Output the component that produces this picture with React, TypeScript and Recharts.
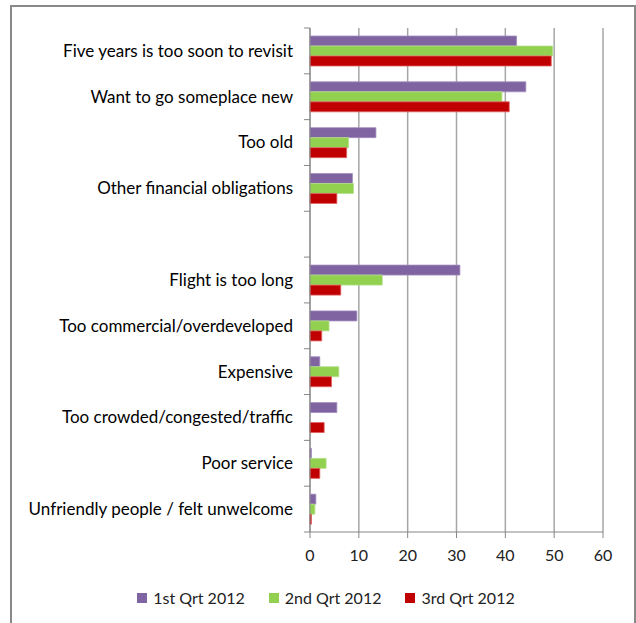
import React from "react";
import { BarChart, Bar, XAxis, YAxis, CartesianGrid } from "recharts";

const categories = [
  "Five years is too soon to revisit",
  "Want to go someplace new",
  "Too old",
  "Other financial obligations",
  "",
  "Flight is too long",
  "Too commercial/overdeveloped",
  "Expensive",
  "Too crowded/congested/traffic",
  "Poor service",
  "Unfriendly people / felt unwelcome",
];
const q1 = [42.3, 44.2, 13.5, 8.7, null, 30.7, 9.6, 2.0, 5.5, 0.3, 1.2];
const q2 = [49.7, 39.3, 7.9, 8.9, null, 14.8, 3.9, 5.9, 0, 3.3, 1.0];
const q3 = [49.4, 40.8, 7.5, 5.5, null, 6.3, 2.4, 4.4, 2.9, 2.0, 0.3];
const xTicks = [0, 10, 20, 30, 40, 50, 60];

const series = [
  { key: "q1", name: "1st Qrt 2012", color: "#8064A2", stroke: "#A58FC0" },
  { key: "q2", name: "2nd Qrt 2012", color: "#92D050", stroke: "#B5E08A" },
  { key: "q3", name: "3rd Qrt 2012", color: "#C00000", stroke: "#E06060" },
];

const data = categories.map((name, i) => ({ name, q1: q1[i], q2: q2[i], q3: q3[i] }));

const FONT = "Lato, 'Open Sans', sans-serif";
const W = 636;
const H = 623;
const TOP = 28;
const AXIS_Y = 532;
const BAND = (AXIS_Y - TOP) / categories.length;

// category label at band centre, tick marks at band edges (Excel style)
function CategoryTick(props: any) {
  const { x, y, payload, index } = props;
  const ax = x + 17;
  return (
    <g>
      <line x1={ax - 6} x2={ax} y1={y - BAND / 2} y2={y - BAND / 2} stroke="#868686" strokeWidth={1} />
      {index === categories.length - 1 && (
        <line x1={ax - 6} x2={ax} y1={y + BAND / 2} y2={y + BAND / 2} stroke="#868686" strokeWidth={1} />
      )}
      <text x={x} y={y} dy="0.35em" textAnchor="end" fontSize={17} fill="#000" fontFamily={FONT}>
        {payload.value}
      </text>
    </g>
  );
}

export default function App() {
  return (
    <div style={{ position: "absolute", left: 0, top: 0, width: W, height: H, background: "#fff", fontFamily: FONT }}>
      <div
        style={{
          position: "absolute",
          left: 10,
          top: 5,
          width: 626,
          height: 620,
          border: "2px solid #898989",
          boxSizing: "border-box",
        }}
      />
      <BarChart
        width={W}
        height={H}
        data={data}
        layout="vertical"
        margin={{ top: TOP, right: 33, bottom: H - AXIS_Y - 30, left: 0 }}
        barGap={0}
        barSize={10}
        style={{ position: "absolute", left: 0, top: 0 }}
      >
        <CartesianGrid horizontal={false} stroke="#A6A6A6" strokeWidth={1.5} />
        <XAxis
          type="number"
          domain={[0, 60]}
          ticks={xTicks}
          height={30}
          tickSize={6}
          tickMargin={12}
          stroke="#868686"
          tick={{ fontSize: 16, fill: "#222", fontFamily: FONT }}
        />
        <YAxis
          type="category"
          dataKey="name"
          width={310}
          tickSize={6}
          tickMargin={11}
          tickLine={false}
          stroke="#868686"
          interval={0}
          tick={<CategoryTick />}
        />
        {series.map((s) => (
          <Bar
            key={s.key}
            dataKey={s.key}
            name={s.name}
            fill={s.color}
            stroke={s.stroke}
            strokeWidth={0.8}
            isAnimationActive={false}
          />
        ))}
      </BarChart>
      <div
        style={{
          position: "absolute",
          top: 588,
          left: 0,
          width: 652,
          display: "flex",
          justifyContent: "center",
          gap: 24,
          fontSize: 16,
          color: "#222",
        }}
      >
        {series.map((s) => (
          <div key={s.key} style={{ display: "flex", alignItems: "center", gap: 6 }}>
            <span style={{ display: "inline-block", width: 10, height: 10, background: s.color }} />
            <span>{s.name}</span>
          </div>
        ))}
      </div>
    </div>
  );
}
